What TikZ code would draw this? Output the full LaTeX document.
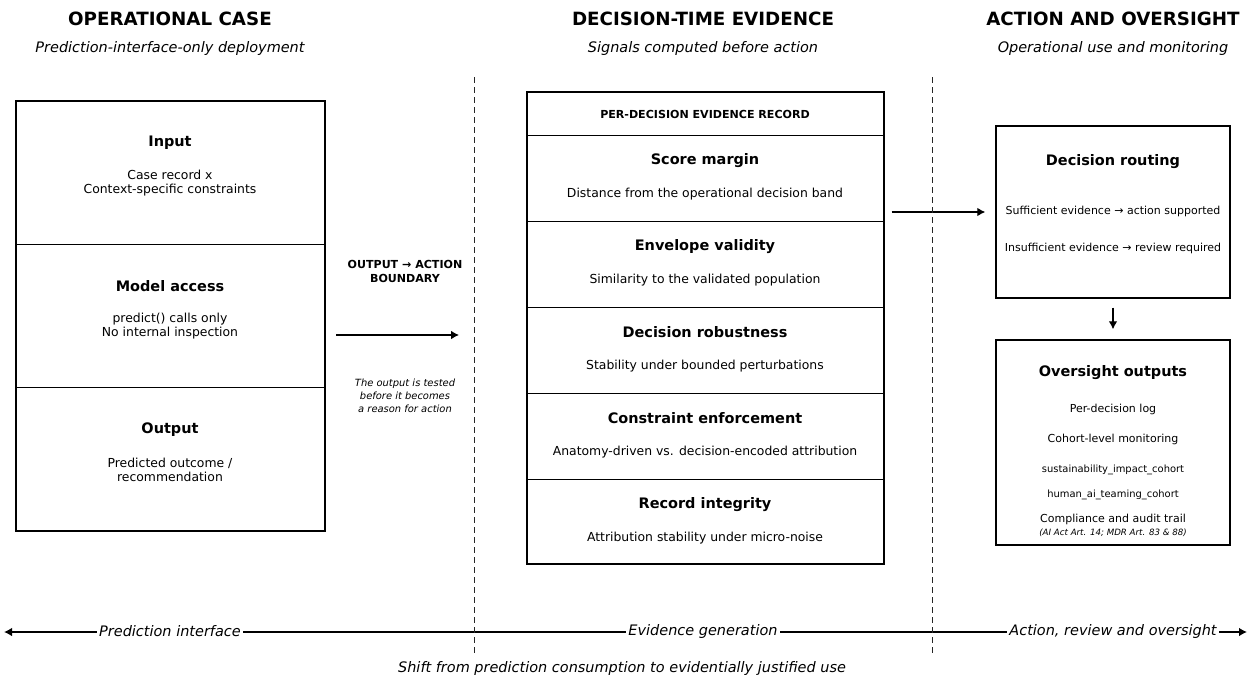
\documentclass[tikz,border=0pt]{standalone}
\usepackage{fontspec}
\setmainfont{DejaVu Sans}
\usetikzlibrary{arrows.meta,fit}
\begin{document}
\begin{tikzpicture}[x=0.75pt,y=-0.75pt,
  title/.style={font=\fontsize{13.7}{15}\selectfont\bfseries, inner sep=0pt},
  sub/.style={font=\fontsize{10.85}{12}\selectfont\itshape, inner sep=0pt},
  head/.style={font=\fontsize{10.85}{12}\selectfont\bfseries, inner sep=0pt},
  body/.style={font=\fontsize{9.3}{10.5}\selectfont, align=center, inner sep=0pt},
  rbody/.style={font=\fontsize{8.25}{9}\selectfont, align=center, inner sep=0pt},
  tiny/.style={font=\fontsize{7.45}{8}\selectfont, inner sep=0pt},
  caps/.style={font=\fontsize{8.3}{10.5}\selectfont\bfseries, align=center, inner sep=0pt},
  note/.style={font=\fontsize{7.45}{9.75}\selectfont\itshape, align=center, inner sep=0pt},
  outer/.style={draw, line width=1.1pt, inner sep=0pt},
  divider/.style={line width=0.75pt},
  sep/.style={dash pattern=on 4.5pt off 3pt, line width=0.75pt, draw=black!85},
  arr/.style={-{Latex[length=6pt,width=6.5pt]}, line width=0.9pt},
  axis/.style={{Latex[length=6pt,width=6.5pt]}-{Latex[length=6pt,width=6.5pt]}, line width=1.1pt},
  axlab/.style={font=\fontsize{10.85}{12}\selectfont\itshape, fill=white, inner sep=2pt}
]
\useasboundingbox (0,0) rectangle (1249,675);

% column titles
\node[title] (t1) at (170,19) {OPERATIONAL CASE};
\node[sub]   (s1) at (170,49) {Prediction-interface-only deployment};
\node[title] (t2) at (703,19) {DECISION-TIME EVIDENCE};
\node[sub]   (s2) at (703,49) {Signals computed before action};
\node[title] (t3) at (1113,19) {ACTION AND OVERSIGHT};
\node[sub]   (s3) at (1113,49) {Operational use and monitoring};

% left box
\node[outer, fit={(16,101) (325,531)}] (leftbox) {};
\draw[divider] (16,244) -- (325,244);
\draw[divider] (16,387) -- (325,387);
\node[head] (inH) at (170,142.5) {Input};
\node[body] (inB) at (170,183) {Case record x\\Context-specific constraints};
\node[head] (maH) at (170,286) {Model access};
\node[body] (maB) at (170,326) {predict() calls only\\No internal inspection};
\node[head] (ouH) at (170,430) {Output};
\node[body] (ouB) at (170,470) {Predicted outcome /\\recommendation};

% boundary
\node[caps] (bnd) at (405,271) {OUTPUT \textrightarrow{} ACTION\\BOUNDARY};
\coordinate (bA) at (336,335);
\coordinate (bB) at (459,335);
\draw[arr] (bA) -- (bB);
\node[note] (bnote) at (405,396) {The output is tested\\before it becomes\\a reason for action};

% middle box
\node[outer, fit={(527,92) (884,564)}] (midbox) {};
\foreach \yy in {135,221,307,393,479} \draw[divider] (527,\yy) -- (884,\yy);
\node[caps] (mhead) at (705,114) {PER-DECISION EVIDENCE RECORD};
\node[head] (h1) at (705,160.5) {Score margin};
\node[body] (b1) at (705,194) {Distance from the operational decision band};
\node[head] (h2) at (705,246.5) {Envelope validity};
\node[body] (b2) at (705,280) {Similarity to the validated population};
\node[head] (h3) at (705,332.5) {Decision robustness};
\node[body] (b3) at (705,366) {Stability under bounded perturbations};
\node[head] (h4) at (705,418.5) {Constraint enforcement};
\node[body] (b4) at (705,452) {Anatomy-driven vs. decision-encoded attribution};
\node[head] (h5) at (705,504.5) {Record integrity};
\node[body] (b5) at (705,538) {Attribution stability under micro-noise};

% right boxes
\node[outer, fit={(996,126) (1230,298)}] (route) {};
\node[head] (rH) at (1113,161.5) {Decision routing};
\node[rbody] (r1) at (1113,211) {Sufficient evidence \textrightarrow{} action supported};
\node[rbody] (r2) at (1113,248) {Insufficient evidence \textrightarrow{} review required};

\node[outer, fit={(996,340) (1230,545)}] (over) {};
\node[head] (oH) at (1113,372.5) {Oversight outputs};
\node[rbody] (o1) at (1113,409) {Per-decision log};
\node[rbody] (o2) at (1113,439) {Cohort-level monitoring};
\node[tiny] (o3) at (1113,470) {sustainability\_impact\_cohort};
\node[tiny] (o4) at (1113,495) {human\_ai\_teaming\_cohort};
\node[rbody] (o5) at (1113,519) {Compliance and audit trail};
\node[font=\fontsize{6.5}{7}\selectfont\itshape, inner sep=0pt] (o6) at (1113,533) {(AI Act Art. 14; MDR Art. 83 \& 88)};

\draw[arr, shorten <=5.25pt, shorten >=7.5pt] (route.west -| midbox.east) -- (route.west);
\draw[arr, shorten <=6.75pt, shorten >=7.5pt] (route.south) -- (over.north);

% bottom axis
\coordinate (axL) at (4,632);
\coordinate (axR) at (1247,632);
\draw[axis] (axL) -- (axR);

% separators
\coordinate (d1t) at (474,77); \coordinate (d1b) at (474,655);
\coordinate (d2t) at (932,77); \coordinate (d2b) at (932,655);
\draw[sep] (d1t) -- (d1b);
\draw[sep] (d2t) -- (d2b);

\node[axlab] (ax1) at (170,631) {Prediction interface};
\node[axlab] (ax2) at (703,631) {Evidence generation};
\node[axlab] (ax3) at (1113,631) {Action, review and oversight};
\node[sub] (cap) at (622,668) {Shift from prediction consumption to evidentially justified use};
\end{tikzpicture}
\end{document}
